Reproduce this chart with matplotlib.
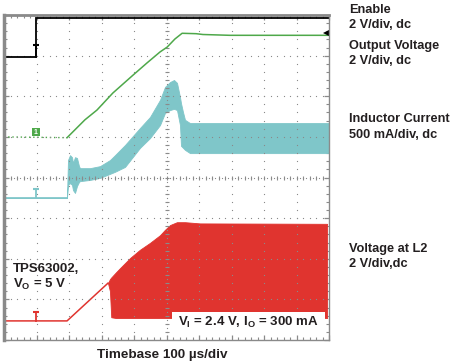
import matplotlib
matplotlib.use("Agg")
import matplotlib.pyplot as plt
import numpy as np
from matplotlib.patches import Rectangle

# ---------------- data (time in µs, amplitude in screen divisions) ----------------
enable_t = [0, 98, 98, 1000]
enable_v = [6.97, 6.97, 7.93, 7.93]

vout_t = [0, 194, 249, 286, 335, 397, 440, 480, 502, 526, 548, 591, 612, 695, 1000]
vout_v = [5.00, 4.98, 5.42, 5.66, 6.08, 6.52, 6.82, 7.09, 7.21, 7.41, 7.55, 7.54, 7.52, 7.50, 7.50]

il_t = [0, 193.8, 196.9, 203.1, 209.2, 212.3, 218.5, 224.6, 230.8, 233.8, 264.6, 295.4,
        326.2, 341.5, 372.3, 418.5, 449.2, 480.0, 495.4, 510.8, 523.1, 532.3, 541.5,
        544.6, 550.8, 556.9, 572.3, 1000]
il_hi = [3.50, 3.50, 4.43, 4.55, 4.50, 4.36, 4.50, 4.48, 4.28, 4.23, 4.23, 4.28,
         4.43, 4.55, 4.80, 5.22, 5.49, 5.91, 6.23, 6.35, 6.40, 6.33, 5.98,
         5.83, 5.61, 5.42, 5.34, 5.34]
il_lo = [3.50, 3.50, 3.82, 3.86, 3.82, 3.69, 3.62, 3.79, 3.89, 3.91, 3.94, 3.99,
         4.09, 4.14, 4.26, 4.73, 4.97, 5.29, 5.59, 5.66, 5.69, 5.66, 5.29,
         4.78, 4.73, 4.68, 4.60, 4.60]

vl2_ramp_t = [0, 194, 320]
vl2_ramp_v = [0.47, 0.47, 1.40]
vl2_t = [320, 326, 330, 345, 357, 388, 418, 449, 480, 495, 511, 532, 557, 603, 994]
vl2_hi = [1.40, 1.50, 1.54, 1.67, 1.77, 2.02, 2.22, 2.39, 2.58, 2.71, 2.83, 2.90, 2.90, 2.87, 2.86]
vl2_lo = [1.40, 1.20, 0.56, 0.54, 0.54, 0.54, 0.54, 0.54, 0.54, 0.54, 0.54, 0.54, 0.54, 0.54, 0.54]

# marker levels (trigger/ground markers)
enable_mark = (98, 6.97, 7.26)
il_mark = (98, 3.50, 3.72)
vl2_mark = (98, 0.47, 0.68)
ch1_mark = (98, 5.11)
trig_level = (990, 7.56)

right_labels = [("Enable", 13.3), ("2 V/div, dc", 27.5), ("Output Voltage", 49.5),
                ("2 V/div, dc", 64), ("Inductor Current", 122), ("500 mA/div, dc", 138),
                ("Voltage at L2", 252), ("2 V/div,dc", 267)]

# ---------------- styling ----------------
plt.rcParams["font.family"] = ["Liberation Sans", "DejaVu Sans"]
plt.rcParams["mathtext.fontset"] = "custom"
plt.rcParams["mathtext.rm"] = "Liberation Sans:bold"
plt.rcParams["mathtext.bf"] = "Liberation Sans:bold"
plt.rcParams["mathtext.it"] = "Liberation Sans:bold"

GREEN = "#4ea84a"
CYAN = "#7fc6c9"
RED = "#e0342f"
GRAY = "#8a8a8a"
TXT = "#231f20"

W, H = 475, 364
fig = plt.figure(figsize=(W / 100, H / 100), dpi=100)
L, R, T, B = 4, 329, 15, 340
ax = fig.add_axes([L / W, 1 - B / H, (R - L) / W, (B - T) / H])
ax.set_xlim(0, 1000)
ax.set_ylim(0, 8)

# traces
ax.fill_between(il_t, il_lo, il_hi, color=CYAN, lw=0.6, edgecolor=CYAN, zorder=2)
ax.plot(il_t[:2], il_hi[:2], color=CYAN, lw=1.2, zorder=2)
ax.fill_between(vl2_t, vl2_lo, vl2_hi, color=RED, lw=0.6, edgecolor=RED, zorder=2)
ax.plot(vl2_ramp_t, vl2_ramp_v, color=RED, lw=1.1, zorder=2)
ax.plot(vout_t[:2], vout_v[:2], color=GREEN, lw=1.0, ls=(0, (1, 2)), zorder=2)
ax.plot(vout_t[1:], vout_v[1:], color=GREEN, lw=1.1, zorder=4)
ax.plot(enable_t, enable_v, color="black", lw=1.3, zorder=5, solid_joinstyle="miter")

# grid (dotted, drawn on top of the traces)
ys = np.arange(0, 8.001, 0.2)
xs = np.arange(0, 1000.1, 20)
dot = dict(ls="none", marker="s", ms=0.8, mew=0, color=GRAY, zorder=3)
for k in range(1, 10):
    if k == 5:
        continue
    ax.plot(np.full_like(ys, k * 100), ys, **dot)
for k in range(1, 8):
    if k == 4:
        continue
    ax.plot(xs, np.full_like(xs, k), **dot)
# centre lines with cross ticks
ys2 = np.arange(0, 8.001, 0.1)
xs2 = np.arange(0, 1000.1, 10)
ax.plot(np.full_like(ys2, 500), ys2, **dot)
ax.plot(np.full_like(ys, 500), ys, ls="none", marker="_", ms=3, mew=0.8, color=GRAY, zorder=3)
ax.plot(xs2, np.full_like(xs2, 4), **dot)
ax.plot(xs, np.full_like(xs, 4), ls="none", marker="|", ms=3, mew=0.8, color=GRAY, zorder=3)

# channel markers
for (mx, y0, y1), c in [(enable_mark, "black"), (il_mark, CYAN), (vl2_mark, RED)]:
    ax.plot([mx, mx], [y0, y1], color=c, lw=1.3, zorder=6)
    ax.plot([mx], [y1], marker="_", ms=5, mew=1.5, color=c, zorder=6)
ax.plot([ch1_mark[0]], [ch1_mark[1]], marker="s", ms=6, color=GREEN, mew=0, zorder=6)
ax.text(ch1_mark[0], ch1_mark[1], "1", color="white", fontsize=5, fontweight="bold",
        ha="center", va="center", zorder=7)
ax.plot([trig_level[0]], [trig_level[1]], marker="<", ms=5, color="black", mew=0, zorder=6)

# white label box over the switching node trace
ax.add_patch(Rectangle((517, 0.12), 471, 0.57, facecolor="white", edgecolor="none", zorder=4))

# frame and ticks
ax.set_xticks(np.arange(0, 1001, 100))
ax.set_xticks(xs, minor=True)
ax.set_yticks(np.arange(0, 8.01, 1))
ax.set_yticks(ys, minor=True)
ax.tick_params(which="both", direction="in", top=True, right=True, labelbottom=False,
               labelleft=False, color=GRAY)
ax.tick_params(which="major", length=3.5, width=0.9)
ax.tick_params(which="minor", length=2, width=0.8)
for side, lw in [("left", 2.5), ("top", 2.0), ("right", 1.0), ("bottom", 1.0)]:
    ax.spines[side].set_color(GRAY)
    ax.spines[side].set_linewidth(lw)
    ax.spines[side].set_zorder(8)

# texts (pixel positions converted to figure fractions)
def ftext(px, py, s, **kw):
    fig.text(px / W, 1 - py / H, s, fontsize=kw.pop("fontsize", 9.2), fontweight="bold",
             color=TXT, va="baseline", **kw)

for s, py in right_labels:
    ftext(349, py, s)
ftext(13, 271.7, "TPS63002,", fontsize=9.5)
ftext(13, 288, r"V$_\mathregular{O}$ = 5 V", fontsize=9.5)
ftext(178, 326, r"V$_\mathregular{I}$ = 2.4 V, I$_\mathregular{O}$ = 300 mA", fontsize=9.5, zorder=9)
ftext(97, 358, "Timebase 100 µs/div", fontsize=9.7)

fig.savefig("out.png", dpi=100, facecolor="white")
